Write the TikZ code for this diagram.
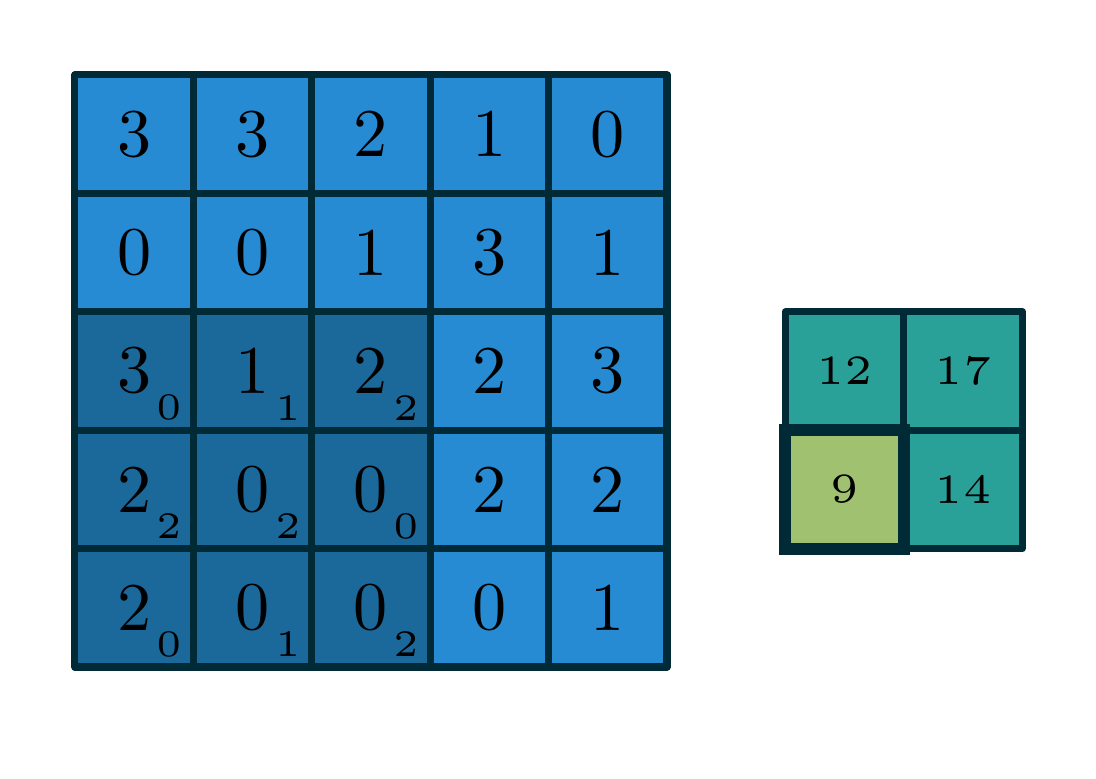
\documentclass[tikz,border=0pt]{standalone}
\usepackage{amssymb,amsmath}
\usepackage{xcolor}
\usepackage{tikz}

\definecolor{gridline}{RGB}{0,43,54}
\definecolor{inblue}{RGB}{38,139,210}
\definecolor{kerblue}{RGB}{27,104,154}
\definecolor{outteal}{RGB}{42,161,152}
\definecolor{outgreen}{RGB}{160,193,112}

\begin{document}
\begin{tikzpicture}[line join=round,
  cell/.style={draw=gridline, line width=1.7pt, fill=inblue, scale=1.64, minimum size=0.6098cm, inner sep=0pt, outer sep=0pt, font=\normalsize},
  kcell/.style={cell, fill=kerblue},
  ocell/.style={draw=gridline, line width=1.7pt, fill=outteal, scale=2.0, minimum size=0.5cm, inner sep=0pt, outer sep=0pt, font=\tiny},
  wt/.style={inner sep=0pt, scale=1.8, font=\tiny}]
\useasboundingbox (-0.633,-0.9375) rectangle (8.623,5.633);

% input
\node[cell] (a11) at (0.5,4.5) {3};
\node[cell] (a12) at (1.5,4.5) {3};
\node[cell] (a13) at (2.5,4.5) {2};
\node[cell] (a14) at (3.5,4.5) {1};
\node[cell] (a15) at (4.5,4.5) {0};

\node[cell] (a21) at (0.5,3.5) {0};
\node[cell] (a22) at (1.5,3.5) {0};
\node[cell] (a23) at (2.5,3.5) {1};
\node[cell] (a24) at (3.5,3.5) {3};
\node[cell] (a25) at (4.5,3.5) {1};

\node[kcell] (a31) at (0.5,2.5) {3};
\node[kcell] (a32) at (1.5,2.5) {1};
\node[kcell] (a33) at (2.5,2.5) {2};
\node[cell] (a34) at (3.5,2.5) {2};
\node[cell] (a35) at (4.5,2.5) {3};

\node[kcell] (a41) at (0.5,1.5) {2};
\node[kcell] (a42) at (1.5,1.5) {0};
\node[kcell] (a43) at (2.5,1.5) {0};
\node[cell] (a44) at (3.5,1.5) {2};
\node[cell] (a45) at (4.5,1.5) {2};

\node[kcell] (a51) at (0.5,0.5) {2};
\node[kcell] (a52) at (1.5,0.5) {0};
\node[kcell] (a53) at (2.5,0.5) {0};
\node[cell] (a54) at (3.5,0.5) {0};
\node[cell] (a55) at (4.5,0.5) {1};

% kernel weights
\node[wt] (w11) at (0.80,2.19) {0};
\node[wt] (w12) at (1.80,2.19) {1};
\node[wt] (w13) at (2.80,2.19) {2};
\node[wt] (w21) at (0.80,1.19) {2};
\node[wt] (w22) at (1.80,1.19) {2};
\node[wt] (w23) at (2.80,1.19) {0};
\node[wt] (w31) at (0.80,0.19) {0};
\node[wt] (w32) at (1.80,0.19) {1};
\node[wt] (w33) at (2.80,0.19) {2};

% output
\node[ocell] (b11) at (6.5,2.5) {12};
\node[ocell] (b12) at (7.5,2.5) {17};
\node[ocell, fill=outgreen] (b21) at (6.5,1.5) {9};
\node[ocell] (b22) at (7.5,1.5) {14};

\draw[gridline, line width=2.9pt, line join=miter] (b21.south west) rectangle (b21.north east);
\end{tikzpicture}
\end{document}
